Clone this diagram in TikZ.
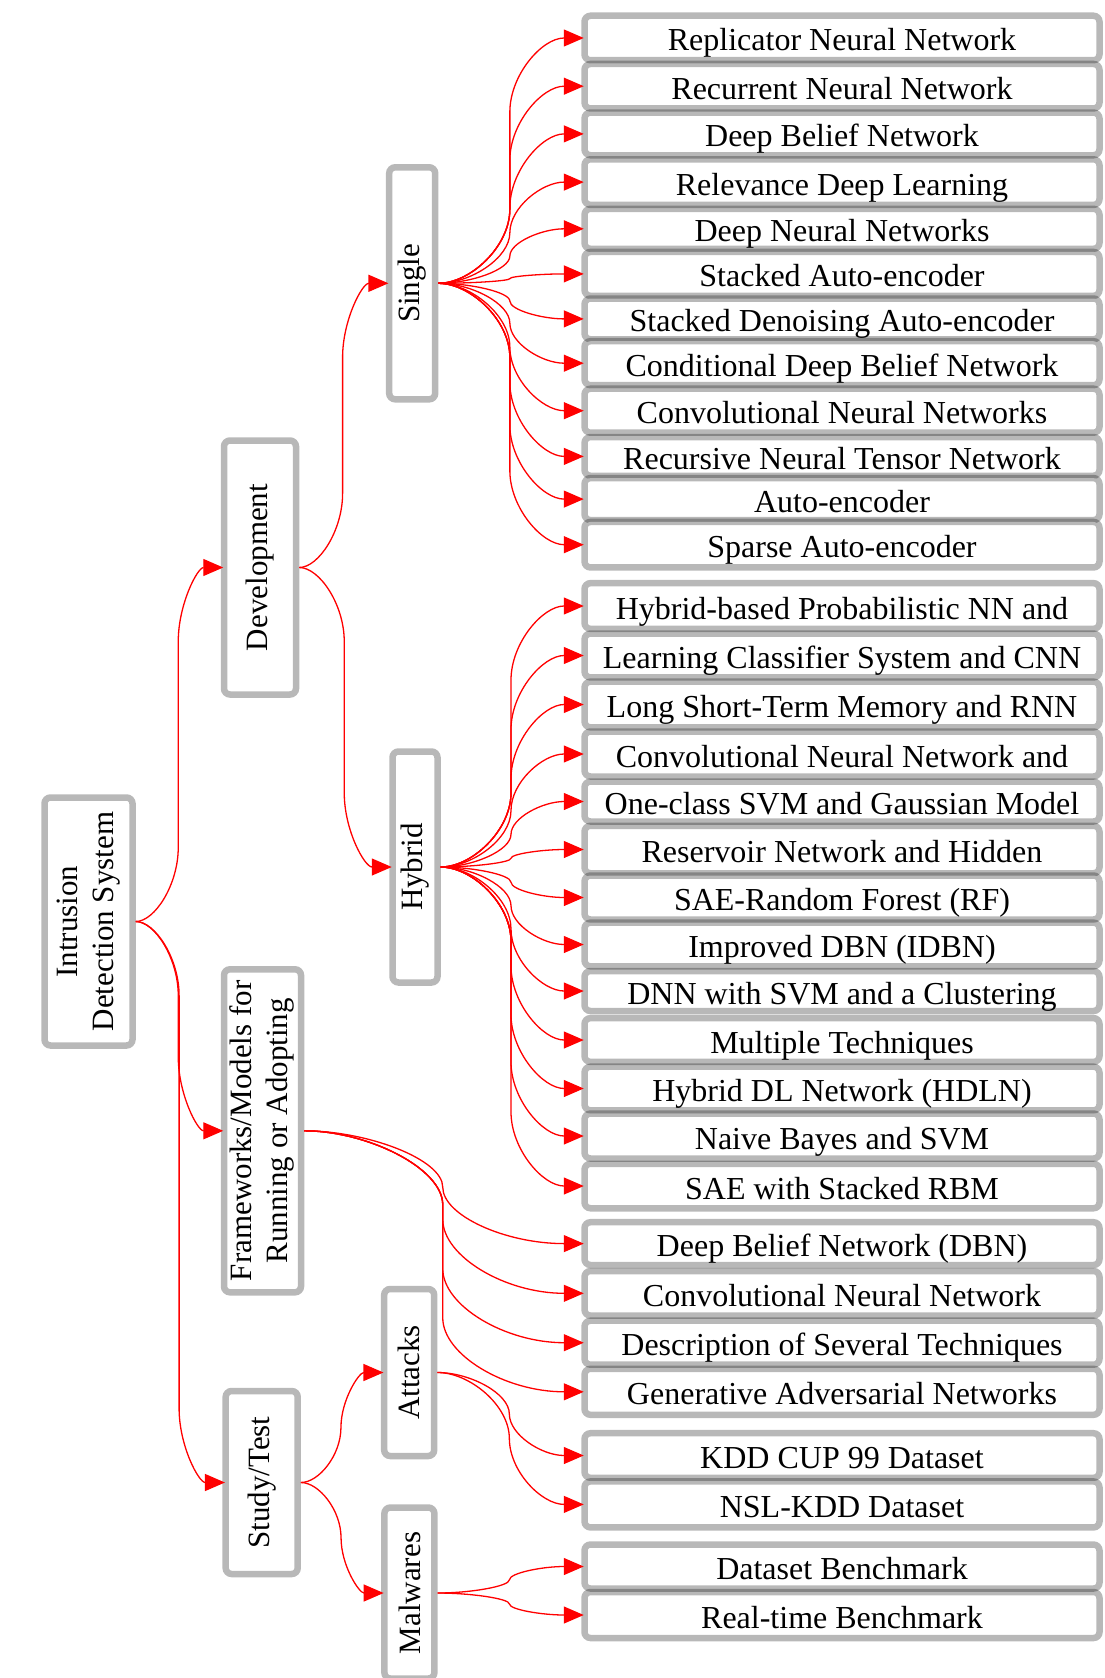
\documentclass[tikz,border=0pt]{standalone}
\usepackage{fontspec}
\setmainfont{Liberation Serif}
\usepackage{graphicx}
\usetikzlibrary{arrows.meta,calc}
\newcommand\fs{\fontsize{31}{36}\selectfont}
\newcommand\fr{\fontsize{32}{36}\selectfont}
\newcommand\lnk[2]{\draw[lnk] let \p1=(#1), \p2=(#2),
 \n1={(\x1+\x2)/2}, \n2={min(74,abs(\y2-\y1)/2)}, \n3={ifthenelse(\y2<\y1,1,-1)},
 \n4={\y1-\n3*\n2}, \n5={\y2+\n3*\n2}, \n6={\x1+0.45*(\n1-\x1)}, \n7={\y1-\n3*0.5*\n2},
 \n8={\y2+\n3*0.5*\n2}, \n9={\x2-0.55*(\x2-\n1)}
 in (\p1) .. controls (\n6,\y1) and (\n1,\n7) .. (\n1,\n4) -- (\n1,\n5) .. controls (\n1,\n8) and (\n9,\y2) .. (\p2);}
\newcommand\rb[4]{\node[rbox, minimum height=#3pt+5pt] (#1) at (842,#2) {#4};}
\newcommand\vb[5]{\node[gbox, minimum width=#3pt, minimum height=#4pt] (#1) at #2 {\rotatebox{90}{#5}};}
\begin{document}
\begin{tikzpicture}[x=1pt,y=-1pt,
  gbox/.style={draw=black, draw opacity=0.28, line width=6.5pt, fill=white, rounded corners=6pt,
    inner sep=0pt, font=\fs, align=center},
  rbox/.style={gbox, font=\fr, minimum width=515pt, text height=30pt, text depth=4pt},
  lnk/.style={draw=red, line width=1.3pt, shorten >=-2.5pt, -{Triangle[length=20pt,width=17pt]}}]
\useasboundingbox (0,0) rectangle (1104,1678);
% left column nodes
\vb{ids}{(88.5,921.5)}{88}{248}{\begin{tabular}{@{}c@{}}Intrusion\\Detection System\end{tabular}}
\vb{dev}{(260,567.5)}{72}{254}{Development}
\vb{fw}{(262.5,1130.8)}{77}{323}{\begin{tabular}{@{}c@{}}Frameworks/Models for\\Running or Adopting\end{tabular}}
\vb{st}{(261.7,1482.5)}{72}{183}{Study/Test}
\vb{single}{(412.2,283.3)}{46}{232}{Single}
\vb{hybrid}{(415,867)}{45}{231}{Hybrid}
\vb{att}{(409.2,1372.5)}{50}{167}{Attacks}
\vb{mal}{(409.4,1593)}{50}{171}{Malwares}
% right column: single
\rb{s1}{38}{39.5}{Replicator Neural Network}
\rb{s2}{86.2}{39.5}{Recurrent Neural Network}
\rb{s3}{133.9}{37.7}{Deep Belief Network}
\rb{s4}{182.1}{40.6}{Relevance Deep Learning}
\rb{s5}{228.8}{35}{Deep Neural Networks}
\rb{s6}{273.9}{38.9}{Stacked Auto-encoder}
\rb{s7}{318.9}{35.8}{Stacked Denoising Auto-encoder}
\rb{s8}{363.2}{39}{Conditional Deep Belief Network}
\rb{s9}{410.7}{39}{Convolutional Neural Networks}
\rb{s10}{456.4}{33.7}{Recursive Neural Tensor Network}
\rb{s11}{499.1}{37}{Auto-encoder}
\rb{s12}{544.7}{40.5}{Sparse Auto-encoder}
% hybrid
\rb{h1}{606}{40.7}{Hybrid-based Probabilistic NN and}
\rb{h2}{655.5}{38.9}{Learning Classifier System and CNN}
\rb{h3}{704.5}{40.7}{Long Short-Term Memory and RNN}
\rb{h4}{754}{40}{Convolutional Neural Network and}
\rb{h5}{801.5}{35}{One-class SVM and Gaussian Model}
\rb{h6}{849.5}{42.5}{Reservoir Network and Hidden}
\rb{h7}{897.5}{39}{SAE-Random Forest (RF)}
\rb{h8}{944.5}{38.7}{Improved DBN (IDBN)}
\rb{h9}{991}{35}{DNN with SVM and a Clustering}
\rb{h10}{1040}{38.8}{Multiple Techniques}
\rb{h11}{1088.5}{38.7}{Hybrid DL Network (HDLN)}
\rb{h12}{1136}{40}{Naive Bayes and SVM}
\rb{h13}{1186}{39.5}{SAE with Stacked RBM}
% frameworks
\rb{f1}{1243.6}{37.8}{Deep Belief Network (DBN)}
\rb{f2}{1293.3}{39.6}{Convolutional Neural Network}
\rb{f3}{1342.7}{39}{Description of Several Techniques}
\rb{f4}{1391.8}{41}{Generative Adversarial Networks}
% attacks
\rb{a1}{1455.5}{39.6}{KDD CUP 99 Dataset}
\rb{a2}{1504.4}{41}{NSL-KDD Dataset}
% malwares
\rb{m1}{1566.5}{39}{Dataset Benchmark}
\rb{m2}{1615}{41}{Real-time Benchmark}
% connectors
\lnk{ids.east}{dev.west}
\lnk{ids.east}{fw.west}
\lnk{ids.east}{st.west}
\lnk{dev.east}{single.west}
\lnk{dev.east}{hybrid.west}
\lnk{st.east}{att.west}
\lnk{st.east}{mal.west}
\foreach \i in {1,...,12} {\lnk{single.east}{s\i.west}}
\foreach \i in {1,...,13} {\lnk{hybrid.east}{h\i.west}}
\foreach \i in {1,...,4} {\lnk{fw.east}{f\i.west}}
\foreach \i in {1,2} {\lnk{att.east}{a\i.west}}
\foreach \i in {1,2} {\lnk{mal.east}{m\i.west}}
\end{tikzpicture}
\end{document}
